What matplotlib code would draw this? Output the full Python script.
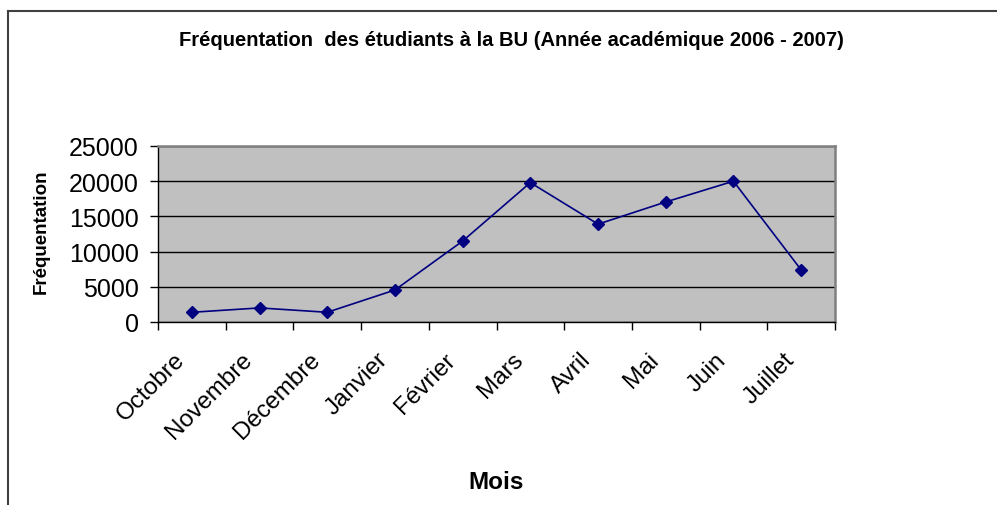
import matplotlib
matplotlib.use("Agg")
import matplotlib.pyplot as plt
from matplotlib.lines import Line2D
from matplotlib.ticker import FixedLocator, NullFormatter

plt.rcParams['font.family'] = ['Liberation Sans', 'DejaVu Sans']

# data
mois = ['Octobre', 'Novembre', 'Décembre', 'Janvier', 'Février',
        'Mars', 'Avril', 'Mai', 'Juin', 'Juillet']
frequentation = [1380, 2000, 1380, 4550, 11500, 19800, 13900, 17050, 20000, 7400]
yticks = [0, 5000, 10000, 15000, 20000, 25000]

W, H = 997, 506
fig = plt.figure(figsize=(W / 100, H / 100), dpi=100)
fig.patch.set_facecolor('white')

ax = fig.add_axes([158 / W, 1 - 323 / H, (835 - 158) / W, (323 - 147) / H])
ax.set_facecolor('#c0c0c0')

x = list(range(len(mois)))
ax.plot(x, frequentation, color='#000080', linewidth=1.2, marker='D',
        markersize=6, markerfacecolor='#000080', markeredgecolor='#000080',
        zorder=3)

ax.set_xlim(-0.5, len(mois) - 0.5)
ax.set_ylim(0, 25000)
ax.set_yticks(yticks)
ax.set_yticklabels([str(v) for v in yticks], fontsize=18)
ax.yaxis.grid(True, color='black', linewidth=1.0)
ax.set_axisbelow(True)

# ticks at category borders; month names placed like Excel's slanted labels
ax.xaxis.set_major_locator(FixedLocator([i - 0.5 for i in range(len(mois) + 1)]))
ax.xaxis.set_major_formatter(NullFormatter())
ax.tick_params(axis='x', which='major', length=6, width=1, direction='out')
ax.tick_params(axis='y', length=6, width=1, direction='out', pad=8)
for i, m in enumerate(mois):
    ax.annotate(m, xy=(i, 0), xycoords=('data', 'axes fraction'),
                xytext=(-13, -19), textcoords='offset points',
                rotation=45, rotation_mode='anchor', ha='right', va='top',
                fontsize=17.5, annotation_clip=False)

for side in ('top', 'right'):
    ax.spines[side].set_color('#808080')
    ax.spines[side].set_linewidth(1.8)
for side in ('left', 'bottom'):
    ax.spines[side].set_color('black')
    ax.spines[side].set_linewidth(1.0)

ax.set_ylabel('Fréquentation', fontsize=13.5, fontweight='bold')
ax.yaxis.set_label_coords((50 - 158) / (835 - 158), 0.52)

fig.text(511 / W, 1 - 40 / H,
         'Fréquentation  des étudiants à la BU (Année académique 2006 - 2007)',
         fontsize=14.5, fontweight='bold', ha='center', va='center')
fig.text(496 / W, 1 - 483 / H, 'Mois', fontsize=17.5, fontweight='bold',
         ha='center', va='center')

# chart area frame (only top and left visible)
fig.add_artist(Line2D([8 / W, 8 / W], [0, 1 - 12 / H], color='#404040', linewidth=1.5))
fig.add_artist(Line2D([8 / W, 1], [1 - 12 / H, 1 - 12 / H], color='#404040', linewidth=1.5))

fig.savefig('out.png', dpi=100)
